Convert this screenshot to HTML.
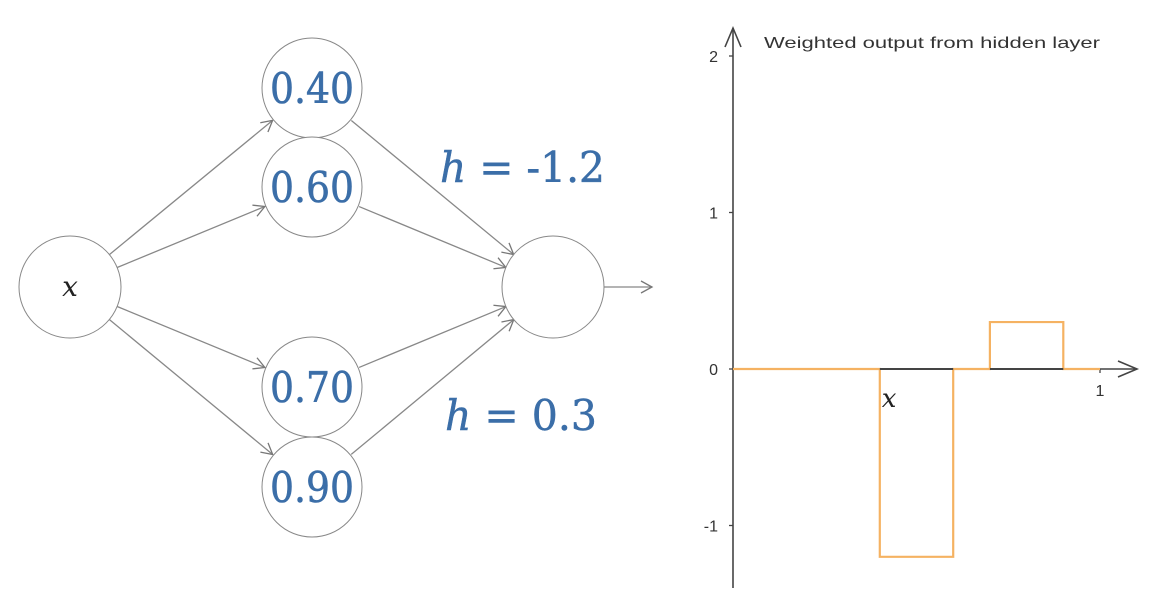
<!DOCTYPE html>
<html><head><meta charset="utf-8"><style>
html,body{margin:0;padding:0;background:#fff;}
svg{display:block;}
.nl{font-family:"DejaVu Serif","Liberation Serif",serif;fill:#3b6ea8;}
.ax{font-family:"Liberation Sans",sans-serif;fill:#333;font-size:16px;}
</style></head><body>
<svg id="root" width="1176" height="602" viewBox="0 0 1176 602">
<defs>
<marker id="ah" markerWidth="14" markerHeight="14" refX="12" refY="7" orient="auto" markerUnits="userSpaceOnUse">
<path d="M1,1 L12,7 L1,13" fill="none" stroke="#777" stroke-width="1.3"/>
</marker>
<marker id="ah2" markerWidth="24" markerHeight="20" refX="21" refY="10" orient="auto" markerUnits="userSpaceOnUse">
<path d="M2,2 L21,10 L2,18" fill="none" stroke="#444" stroke-width="1.6"/>
</marker>
</defs>
<g id="net"></g>
<g id="chart"></g>
</svg>
<script>
const hiddenBiases = ["0.40","0.60","0.70","0.90"];
const hiddenY = [88,187,387,487];
const stepStarts = [0.40,0.70];
const stepEnds = [0.60,0.90];
const stepHeights = [-1.2,0.3];
const yTicks = [2,1,0,-1];
const xTicks = [1];

const NS="http://www.w3.org/2000/svg";
function mk(tag,attrs,parent){const e=document.createElementNS(NS,tag);for(const k in attrs)e.setAttribute(k,attrs[k]);parent.appendChild(e);return e;}
const net=document.getElementById('net');
const inX=70,inY=287,outX=553,outY=287,hx=312,r=51;
function edge(x1,y1,x2,y2,name){
  const dx=x2-x1,dy=y2-y1,L=Math.hypot(dx,dy);
  const l=mk('line',{x1:x1+dx/L*r,y1:y1+dy/L*r,x2:x2-dx/L*r,y2:y2-dy/L*r,stroke:'#888','stroke-width':1.3,'marker-end':'url(#ah)'},net);
  
  
}
hiddenY.forEach((y,i)=>{edge(inX,inY,hx,y,'input-edge-'+i);edge(hx,y,outX,outY,'output-edge-'+i);});
const oa=mk('line',{x1:outX+r,y1:outY,x2:652,y2:outY,stroke:'#888','stroke-width':1.3,'marker-end':'url(#ah)'},net);


const ic=mk('circle',{cx:inX,cy:inY,r:r,fill:'#fff',stroke:'#888','stroke-width':1},net);


const it=mk('text',{x:inX,y:inY+9,'text-anchor':'middle','font-family':'DejaVu Serif,serif','font-style':'italic','font-size':28,fill:'#222'},net);
it.textContent='x';


hiddenY.forEach((y,i)=>{
  const c=mk('circle',{cx:hx,cy:y,r:r-1,fill:'#fff',stroke:'#888','stroke-width':1},net);
  
  
  const t=mk('text',{x:hx,y:y+15,'text-anchor':'middle','font-size':42,class:'nl',stroke:'#3b6ea8','stroke-width':0.6,textLength:84,lengthAdjust:'spacingAndGlyphs'},net);
  t.textContent=hiddenBiases[i];
  
  
});
const oc=mk('circle',{cx:outX,cy:outY,r:r,fill:'#fff',stroke:'#888','stroke-width':1},net);


[[440,182,stepHeights[0],165],[445,430,stepHeights[1],152]].forEach((p,i)=>{
  const t=mk('text',{x:p[0],y:p[1],'font-size':42,class:'nl',stroke:'#3b6ea8','stroke-width':0.5,textLength:p[3],lengthAdjust:'spacingAndGlyphs'},net);
  const a=mk('tspan',{'font-style':'italic'},t);a.textContent='h';
  const b=mk('tspan',{},t);b.textContent=' = '+String(p[2]);
  
  
});

// chart
const ch=document.getElementById('chart');
const X0=733,X1=1100,Y0=369,UNIT=156.5;
const sx=v=>X0+(X1-X0)*v, sy=v=>Y0-v*UNIT;
const ya=mk('line',{x1:X0,y1:588,x2:X0,y2:28,stroke:'#444','stroke-width':1.6,'marker-end':'url(#ah2)'},ch);


const xa=mk('line',{x1:X0,y1:Y0,x2:1137,y2:Y0,stroke:'#444','stroke-width':1.6,'marker-end':'url(#ah2)'},ch);


yTicks.forEach(v=>{
  const tk=mk('line',{x1:X0-4,y1:sy(v),x2:X0,y2:sy(v),stroke:'#444','stroke-width':1.3},ch);
  
  
  const t=mk('text',{x:X0-15,y:sy(v)+6,'text-anchor':'end',class:'ax'},ch);
  t.textContent=String(v);
  
  
});
xTicks.forEach(v=>{
  const tk=mk('line',{x1:sx(v),y1:Y0,x2:sx(v),y2:Y0+4,stroke:'#444','stroke-width':1.3},ch);
  
  
  const t=mk('text',{x:sx(v),y:Y0+27,'text-anchor':'middle',class:'ax'},ch);
  t.textContent=String(v);
  
  
});
let d='M'+sx(0)+','+sy(0);
stepStarts.forEach((s,i)=>{
  d+=' L'+sx(s)+','+sy(0)+' L'+sx(s)+','+sy(stepHeights[i])+' L'+sx(stepEnds[i])+','+sy(stepHeights[i])+' L'+sx(stepEnds[i])+','+sy(0);
});
d+=' L'+sx(1)+','+sy(0);
const sp=mk('path',{d:d,fill:'none',stroke:'#f5b262','stroke-width':2.2},ch);


stepStarts.forEach((s,i)=>{
  const seg=mk('line',{x1:sx(s),y1:Y0,x2:sx(stepEnds[i]),y2:Y0,stroke:'#444','stroke-width':2},ch);
  
  
});
const xl=mk('text',{x:sx(stepStarts[0])+2,y:Y0+38,'font-family':'DejaVu Serif,serif','font-style':'italic','font-size':26,fill:'#222'},ch);
xl.textContent='x';


const title=mk('text',{x:764,y:48,class:'ax','font-size':17,textLength:336,lengthAdjust:'spacingAndGlyphs'},ch);
title.textContent='Weighted output from hidden layer';


</script>
</body></html>
